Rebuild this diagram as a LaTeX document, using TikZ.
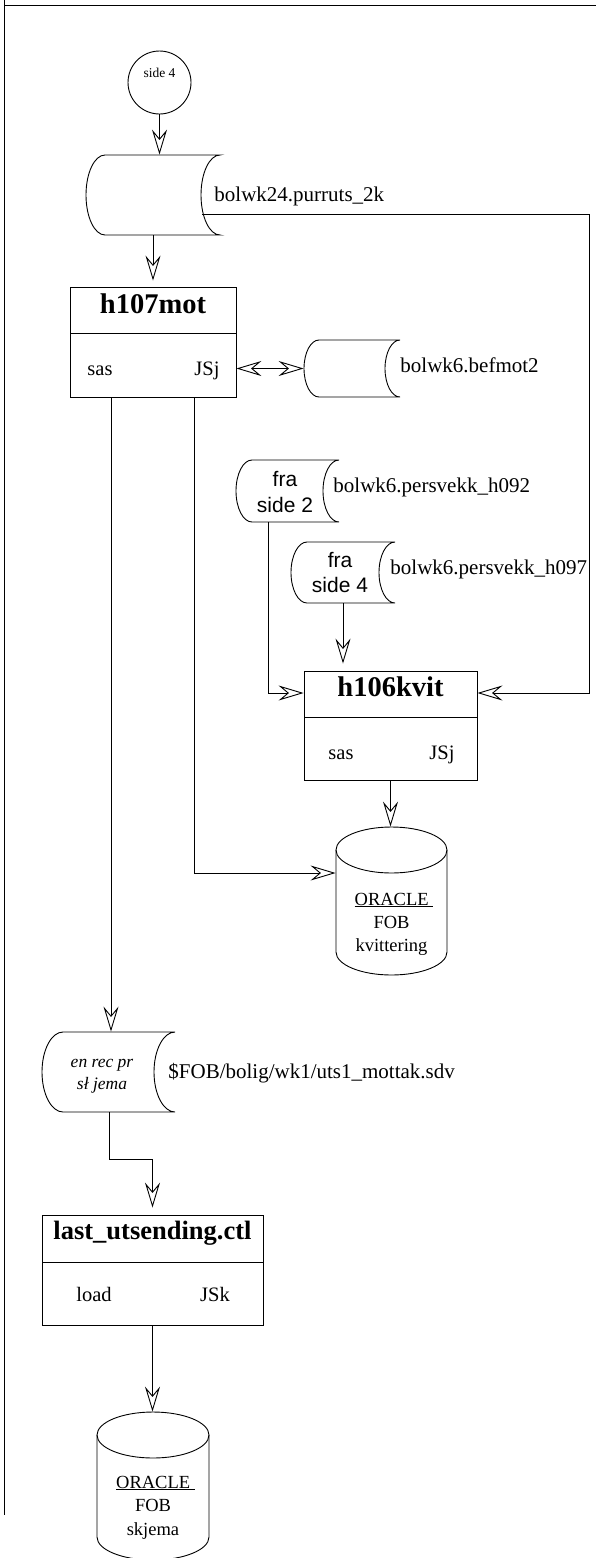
\documentclass[tikz,border=0pt]{standalone}
\usepackage{fontspec}
\setmainfont{Liberation Serif}
\newfontfamily\sansf{Liberation Sans}
\usetikzlibrary{arrows.meta}
\newcommand\fs[1]{\fontsize{#1}{#1}\selectfont}
% tape (stored data) shape: name, xl, xr, top, bot, bulge
\newcommand\tapeshape[6]{%
  \pgfmathsetmacro\tpw{#3-#2+#6}%
  \pgfmathsetmacro\tph{#5-#4}%
  \pgfmathsetmacro\tpcx{(#2+#3-#6)/2}%
  \pgfmathsetmacro\tpcy{(#4+#5)/2}%
  \pgfmathsetmacro\tpry{(#5-#4)/2}%
  \node[inner sep=0pt, minimum width=\tpw pt, minimum height=\tph pt] (#1) at (\tpcx,\tpcy) {};
  \draw (#2,#4) -- (#3,#4) arc[start angle=270, end angle=90, x radius=#6, y radius=\tpry]
        -- (#2,#5) arc[start angle=90, end angle=270, x radius=#6, y radius=\tpry] -- cycle;
}
% database cylinder: name, xl, xr, top, bot
\newcommand\dbshape[5]{%
  \pgfmathsetmacro\dbrx{(#3-#2)/2}%
  \pgfmathsetmacro\dbw{#3-#2}%
  \pgfmathsetmacro\dbh{#5-#4}%
  \pgfmathsetmacro\dbcx{(#2+#3)/2}%
  \pgfmathsetmacro\dbcy{(#4+#5)/2}%
  \pgfmathsetmacro\dbt{#4+23}%
  \pgfmathsetmacro\dbb{#5-23}%
  \node[inner sep=0pt, minimum width=\dbw pt, minimum height=\dbh pt] (#1) at (\dbcx,\dbcy) {};
  \draw (#2,\dbt) -- (#2,\dbb) arc[start angle=180, end angle=0, x radius=\dbrx, y radius=23] -- (#3,\dbt);
  \draw (\dbcx,\dbt) ellipse[x radius=\dbrx, y radius=23];
}
\begin{document}
\begin{tikzpicture}[x=1pt, y=-1pt, line width=0.9pt,
  arr/.style={-{Stealth[open, length=25pt, width=15pt, inset=9pt]}},
  darr/.style={{Stealth[open, length=25pt, width=15pt, inset=9pt]}-{Stealth[open, length=25pt, width=15pt, inset=9pt]}},
  box/.style={draw, inner sep=0pt, rectangle},
  lbl/.style={inner sep=0pt, anchor=base west, font=\fs{21}},
  ttl/.style={inner sep=0pt, anchor=base, font=\bfseries\fs{28.5}},
  sml/.style={inner sep=0pt, anchor=base, font=\fs{20.5}},
  sns/.style={inner sep=0pt, anchor=base, font=\sansf\fs{21}},
  itl/.style={inner sep=0pt, anchor=base, font=\itshape\fs{17.5}},
  dbt/.style={inner sep=0pt, anchor=base, font=\fs{18.5}}]
\useasboundingbox (0,0) rectangle (596,1558);

% page frame
\draw (4.5,0) -- (4.5,1515);
\draw (4.5,5) -- (596,5);

% start connector circle
\node[circle, draw, minimum size=63pt, inner sep=0pt] (s4) at (159.5,82.5) {};
\node[inner sep=0pt, anchor=base, font=\fs{13.5}] (s4t) at (159.5,77) {side 4};

% tape bolwk24
\tapeshape{t1}{105}{220}{155}{235}{19}
\node[lbl] (t1l) at (214,201) {bolwk24.purruts\_2k};
\coordinate (t1r) at (202,214);

% h107mot box
\node[box, minimum width=166pt, minimum height=110pt] (m7) at (153,342) {};
\draw (70,333) -- (236,333);
\node[ttl] (m7t) at (153,313) {h107mot};
\node[sml] (m7a) at (100,375) {sas};
\node[sml] (m7b) at (207,375) {JSj};

% befmot2 tape
\tapeshape{bm}{319}{400}{340}{397}{15}
\node[lbl] (bml) at (400,372) {bolwk6.befmot2};

% fra side 2 tape
\tapeshape{f2}{252}{339}{460}{522}{16}
\node[sns] (f2a) at (285,486) {fra};
\node[sns] (f2b) at (285,512) {side 2};
\node[lbl] (f2l) at (333,492) {bolwk6.persvekk\_h092};

% fra side 4 tape
\tapeshape{f4}{307}{395}{542}{603}{16}
\node[sns] (f4a) at (340,567) {fra};
\node[sns] (f4b) at (340,592) {side 4};
\node[lbl] (f4l) at (390,574) {bolwk6.persvekk\_h097};

% h106kvit box
\node[box, minimum width=173pt, minimum height=109pt] (k6) at (390.5,725.5) {};
\draw (304,717) -- (477,717);
\node[ttl] (k6t) at (390.5,696) {h106kvit};
\node[sml] (k6a) at (341,759) {sas};
\node[sml] (k6b) at (442,759) {JSj};

% ORACLE kvittering
\dbshape{db1}{336}{447}{827}{975}
\node[dbt, xshift=2.5pt] (db1a) at (391.5,905) {\underline{ORACLE\ }};
\node[dbt] (db1b) at (391.5,928) {FOB};
\node[dbt] (db1c) at (391.5,951) {kvittering};

% en rec pr tape
\tapeshape{er}{63}{175}{1032}{1112}{21}
\node[itl] (era) at (102,1067) {en rec pr};
\node[itl] (erb) at (102,1089) {sł jema};
\node[lbl] (erl) at (168,1078) {\$FOB/bolig/wk1/uts1\_mottak.sdv};

% last_utsending box
\node[box, minimum width=221pt, minimum height=110pt] (lu) at (152.5,1270) {};
\draw (42,1262) -- (263,1262);
\node[ttl, font=\bfseries\fs{26.5}] (lut) at (152.5,1239) {last\_utsending.ctl};
\node[sml] (lua) at (94,1301) {load};
\node[sml] (lub) at (215,1301) {JSk};

% ORACLE skjema
\dbshape{db2}{97}{209}{1412}{1560}
\node[dbt, xshift=2.5pt] (db2a) at (153,1488) {\underline{ORACLE\ }};
\node[dbt] (db2b) at (153,1511.5) {FOB};
\node[dbt] (db2c) at (153,1535) {skjema};

% connectors
\coordinate (rc) at (589,693);
\draw[arr] (s4.south) -- (s4.south |- t1.north);
\draw[arr, shorten >=6pt] (t1.south) -- (m7.north);
\draw[darr] (m7.east |- bm.west) -- (bm.west);
\draw[arr] (t1r) -| (rc) -- (k6.east |- rc);
\draw[arr] (f2.south -| 268,0) |- (k6.west |- rc);
\draw[arr, shorten >=7pt] (f4.south) -- (f4.south |- k6.north);
\draw[arr] (k6.south) -- (k6.south |- db1.north);
\draw[arr] ([xshift=41pt]m7.south) |- (db1.west |- 0,873);
\draw[arr] ([xshift=-42pt]m7.south) -- ([xshift=-42pt]m7.south |- er.north);
\coordinate (eb) at (109,1159);
\draw[arr, shorten >=7pt] (er.south -| eb) -- (eb) -| (lu.north);
\draw[arr] (lu.south) -- (lu.south |- db2.north);
\end{tikzpicture}
\end{document}
